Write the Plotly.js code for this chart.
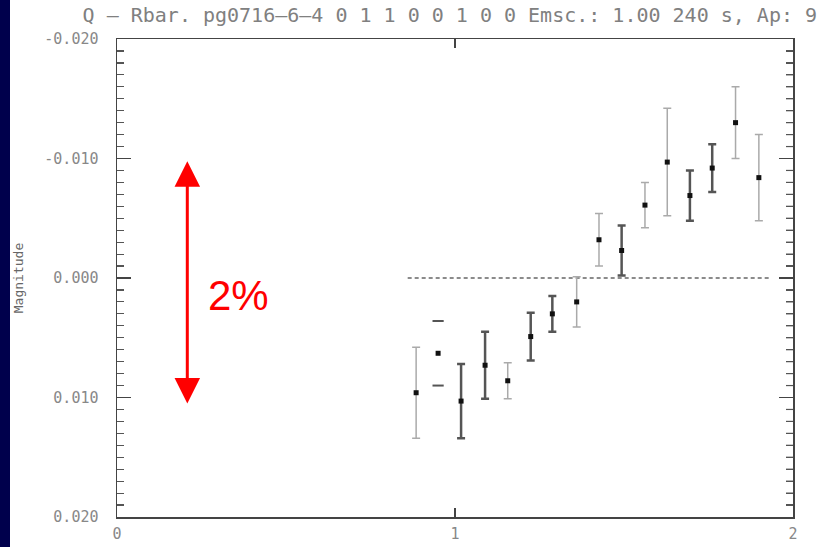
<!DOCTYPE html>
<html>
<head>
<meta charset="utf-8">
<script src="https://cdn.plot.ly/plotly-3.0.1.min.js"></script>
<style>
  html, body { margin: 0; padding: 0; background: #00004c; width: 817px; height: 547px; overflow: hidden; }
  #chart { position: absolute; left: 10px; top: 0; width: 807px; height: 547px; background: #ffffff; }
</style>
</head>
<body>
<div id="chart"></div>
<script>
// ---- data ----
const phase = [0.885, 0.950, 1.018, 1.089, 1.156, 1.224, 1.288, 1.360, 1.426, 1.493, 1.562, 1.628, 1.695, 1.761, 1.830, 1.899];
const magnitude = [0.0096, 0.0063, 0.0103, 0.0073, 0.0086, 0.0049, 0.0030, 0.0020, -0.0032, -0.0023, -0.0061, -0.0097, -0.0069, -0.0092, -0.0130, -0.0084];
const magError = [0.0038, 0.0027, 0.0031, 0.0028, 0.0015, 0.0020, 0.0015, 0.0021, 0.0022, 0.0021, 0.0019, 0.0045, 0.0021, 0.0020, 0.0030, 0.0036];
const barStyle = ['light','caps','dark','dark','light','dark','dark','light','light','dark','light','light','dark','dark','light','light'];
const refLineX = [0.86, 1.93];
const refLineY = [0, 0];
const yTickVals = [-0.02, -0.01, 0, 0.01, 0.02];
const yTickText = ['-0.020', '-0.010', '0.000', '0.010', '0.020'];
const yMinorStep = 0.001;
const xTickVals = [0, 1, 2];
const xTickText = ['0', '1', '2'];
const titleText = 'Q – Rbar. pg0716–6–4 0 1 1 0 0 1 0 0 Emsc.: 1.00 240 s, Ap: 9';
const arrowPhase = 0.208;
const arrowFrom = -0.0099;
const arrowTo = 0.0105;
const arrowLabel = '2%';

function pick(style) {
  const xs = [], ys = [], es = [];
  phase.forEach((p, i) => { if (barStyle[i] === style) { xs.push(p); ys.push(magnitude[i]); es.push(magError[i]); } });
  return {xs, ys, es};
}
const light = pick('light'), dark = pick('dark'), caps = pick('caps');

const traces = [
  { x: refLineX, y: refLineY, mode: 'lines', line: {color: '#666', width: 1.5, dash: '4px,3px'}, hoverinfo: 'skip' },
  { x: light.xs, y: light.ys, mode: 'markers', marker: {symbol: 'square', size: 5, color: '#111'},
    error_y: {type: 'data', array: light.es, visible: true, color: '#aaaaaa', thickness: 1.5, width: 4} },
  { x: dark.xs, y: dark.ys, mode: 'markers', marker: {symbol: 'square', size: 5, color: '#111'},
    error_y: {type: 'data', array: dark.es, visible: true, color: '#555555', thickness: 2.5, width: 4} },
  { x: caps.xs.concat(caps.xs), y: caps.ys.map((v, i) => v - caps.es[i]).concat(caps.ys.map((v, i) => v + caps.es[i])),
    mode: 'markers', marker: {symbol: 'line-ew', size: 8, line: {color: '#555', width: 2}} },
  { x: caps.xs, y: caps.ys, mode: 'markers', marker: {symbol: 'square', size: 5, color: '#111'} }
];

const tickFont = {family: 'DejaVu Sans Mono', size: 15, color: '#888'};

// mirrored minor ticks on the right frame edge (axis decoration, placed through the y axis scale)
const plotWidthPx = 807 - 107 - 24;
const rightMinorTicks = [];
for (let k = -20; k <= 20; k++) {
  if (k % 10 === 0) continue;
  rightMinorTicks.push({type: 'line', xref: 'paper', yref: 'y', x0: 1, x1: 1 - 7 / plotWidthPx,
    y0: k * yMinorStep, y1: k * yMinorStep, line: {color: '#555', width: 1.2}});
}

const layout = {
  width: 807, height: 547,
  margin: {l: 107, r: 24, t: 39, b: 30},
  paper_bgcolor: '#ffffff', plot_bgcolor: '#ffffff',
  showlegend: false,
  title: {text: titleText, font: {family: 'DejaVu Sans Mono', size: 20, color: '#808080'},
          xref: 'container', yref: 'container', x: 0.545, xanchor: 'center', y: 0.973, yanchor: 'middle'},
  xaxis: {range: [0, 2], showgrid: false, zeroline: false, showline: true, mirror: 'ticks',
          linecolor: '#444', linewidth: 1.5, ticks: 'inside', ticklen: 9, tickwidth: 1.5, tickcolor: '#444',
          tickvals: xTickVals, ticktext: xTickText, tickfont: tickFont, ticklabelstandoff: 2},
  yaxis: {range: [0.02, -0.02], showgrid: false, zeroline: false, showline: true, mirror: 'ticks',
          linecolor: '#444', linewidth: 1.5, ticks: 'inside', ticklen: 14, tickwidth: 1.5, tickcolor: '#444',
          tickvals: yTickVals, ticktext: yTickText, tickfont: tickFont, ticklabelstandoff: 14,
          minor: {dtick: yMinorStep, ticks: 'inside', ticklen: 7, tickwidth: 1.2, tickcolor: '#555', showgrid: false},
          title: {text: 'Magnitude', font: {family: 'DejaVu Sans Mono', size: 13, color: '#666'}, standoff: 18},
          automargin: false},
  shapes: rightMinorTicks,
  annotations: [
    {x: arrowPhase, y: arrowTo, ax: arrowPhase, ay: arrowFrom, xref: 'x', yref: 'y', axref: 'x', ayref: 'y',
     text: '', showarrow: true, arrowhead: 2, startarrowhead: 2, arrowside: 'end+start', arrowsize: 1.7,
     arrowwidth: 3, arrowcolor: '#ff0000'},
    {x: 0.358, y: 0.0015, xref: 'x', yref: 'y', text: arrowLabel, showarrow: false,
     font: {family: 'Liberation Sans', size: 42, color: '#ff0000'}, xanchor: 'center', yanchor: 'middle'}
  ]
};

Plotly.newPlot('chart', traces, layout, {displayModeBar: false, staticPlot: true});
</script>
</body>
</html>
